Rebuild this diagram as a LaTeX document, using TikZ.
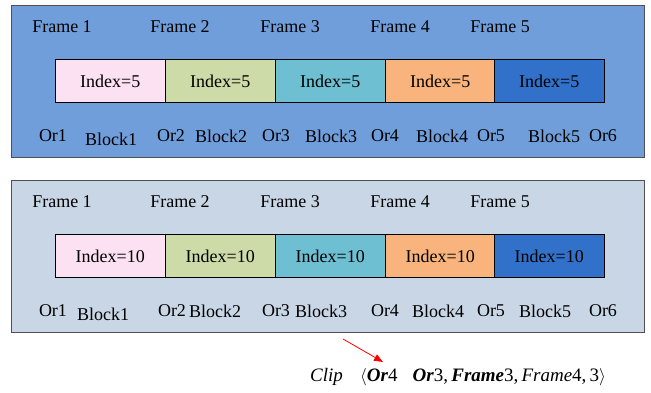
\documentclass[tikz,border=0pt]{standalone}
\usepackage{fontspec}
\setmainfont{Liberation Serif}
\usetikzlibrary{arrows.meta}
\definecolor{panelA}{RGB}{112,158,219}
\definecolor{panelB}{RGB}{201,214,230}
\definecolor{blkA}{RGB}{251,225,242}
\definecolor{blkB}{RGB}{204,219,168}
\definecolor{blkC}{RGB}{111,191,210}
\definecolor{blkD}{RGB}{248,180,124}
\definecolor{blkE}{RGB}{50,113,201}
\definecolor{edge}{RGB}{80,80,80}
\tikzset{
  panel/.style={draw=edge, line width=0.9pt},
  blockbox/.style={draw=black, line width=0.6pt, minimum width=109.8pt, minimum height=43pt, inner sep=0pt, anchor=west},
  lbl/.style={font=\fontsize{18}{20}\selectfont, inner sep=0pt},
  cliptext/.style={font=\fontsize{19}{21}\selectfont, inner sep=0pt, anchor=base west}
}
\begin{document}
\begin{tikzpicture}[x=1pt,y=-1pt]
\useasboundingbox (0,0) rectangle (651,393);
% two panels with identical layout
\foreach \pid/\py/\pc/\idx in {A/5/panelA/5, B/180/panelB/10}{
  \node[panel, fill=\pc, minimum width=633pt, minimum height=152pt, anchor=north west, inner sep=0pt] (panel\pid) at (11,\py) {};
  \foreach \k/\c/\bx in {1/blkA/55, 2/blkB/165, 3/blkC/275, 4/blkD/385, 5/blkE/494}{
    \node[blockbox, fill=\c, lbl] (blk\pid\k) at (\bx,\py+76) {Index=\idx};
  }
  \foreach \k/\fx in {1/62, 2/180, 3/290, 4/400, 5/500}{
    \node[lbl] (frame\pid\k) at (\fx,\py+22) {Frame \k};
  }
}
% boundary labels, top panel
\foreach \k/\ox in {1/53, 2/171, 3/276, 4/385, 5/491, 6/603}{
  \node[lbl] (orA\k) at (\ox,136) {Or\k};
}
\foreach \k/\bx in {1/111, 2/221, 3/331, 4/442, 5/554}{
  \node[lbl] (bkA\k) at (\bx,\ifnum\k=1 139\else 136\fi) {Block\k};
}
% boundary labels, lower panel
\foreach \k/\ox in {1/53, 2/172, 3/276, 4/385, 5/491, 6/603}{
  \node[lbl] (orB\k) at (\ox,311) {Or\k};
}
\foreach \k/\bx in {1/103, 2/215, 3/321, 4/438, 5/545}{
  \node[lbl] (bkB\k) at (\bx,\ifnum\k=1 314\else 311\fi) {Block\k};
}
% clip tuple
\node[cliptext] (clipname) at (310,381) {\itshape Clip};
\node[cliptext] (tuple) at (360,381) {$\big\langle$\textbf{\itshape Or}4\hspace{15pt}\textbf{\itshape Or}3,\,\textbf{\itshape Frame}3,\,\textit{Frame}4,\,3$\big\rangle$};
\coordinate (arrowtail) at (343,339);
\draw[red, line width=0.8pt, -{Triangle[length=9pt,width=7pt]}] (arrowtail) -- (383,362);
\end{tikzpicture}
\end{document}
